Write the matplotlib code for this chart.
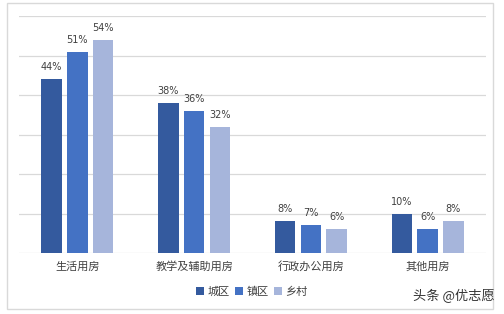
import numpy as np
import matplotlib.pyplot as plt
from matplotlib.patches import Rectangle

plt.rcParams['font.family'] = ['Noto Sans CJK SC', 'DejaVu Sans']

categories = ['生活用房', '教学及辅助用房', '行政办公用房', '其他用房']
series_names = ['城区', '镇区', '乡村']
city = [44, 38, 8, 10]
town = [51, 36, 7, 6]
village = [54, 32, 6, 8]
values = [city, town, village]
colors = ['#345A9E', '#4472C4', '#A6B5DB']

W, H = 504, 314
fig = plt.figure(figsize=(W / 100, H / 100), dpi=100)
ax = fig.add_axes([19 / W, 1 - 253 / H, (486 - 19) / W, (253 - 16) / H])

x = np.arange(len(categories))
bw = 0.175
step = 0.22
for i, (vals, c, name) in enumerate(zip(values, colors, series_names)):
    pos = x + (i - 1) * step
    ax.bar(pos, vals, width=bw, color=c, label=name, zorder=3)
    for p, v in zip(pos, vals):
        ax.annotate(f'{v}%', (p, v), xytext=(0, 5), textcoords='offset points',
                    ha='center', va='bottom', fontsize=7, color='#404040',
                    family='DejaVu Sans')

ax.set_xlim(-0.5, len(categories) - 0.5)
ax.set_ylim(0, 60)
ax.set_yticks(np.arange(0, 61, 10))
ax.yaxis.grid(True, color='#d9d9d9', linewidth=0.9, zorder=0)
ax.set_yticklabels([])
ax.tick_params(axis='both', length=0)
ax.set_xticks(x)
ax.set_xticklabels(categories, fontsize=8, color='#404040')
ax.tick_params(axis='x', pad=6)
for s in ax.spines.values():
    s.set_visible(False)

fig.legend(loc='center', bbox_to_anchor=(252 / W, 1 - 292 / H), ncol=3, frameon=False,
           fontsize=8, handlelength=0.7, handleheight=0.7, handletextpad=0.3,
           columnspacing=0.5, labelcolor='#404040')

fig.patches.append(Rectangle((7 / W, 1 - 309 / H), (493 - 7) / W, (309 - 3) / H,
                             transform=fig.transFigure, fill=False,
                             edgecolor='#d9d9d9', linewidth=1))

fig.text(495 / W, 1 - 296 / H, '头条 @优志愿', ha='right', va='center', fontsize=9.5,
         color='#333333')

fig.savefig('out.png', dpi=100)
